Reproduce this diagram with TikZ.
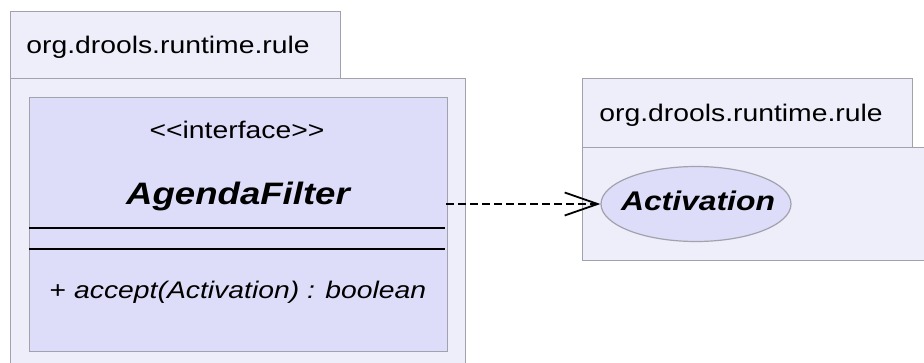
\documentclass[tikz,border=0pt]{standalone}
\usepackage{fontspec}
\setmainfont[FakeStretch=1.18]{Liberation Sans}
\usetikzlibrary{arrows.meta,shapes.geometric}
\definecolor{pkgfill}{HTML}{EEEEFB}
\definecolor{clsfill}{HTML}{DDDDF9}
\definecolor{edgegray}{HTML}{A2A2AC}
\tikzset{
  pkgbox/.style={draw=edgegray, fill=pkgfill, line width=1.3pt, inner sep=0pt, anchor=north west, rectangle},
  clsbox/.style={draw=edgegray, fill=clsfill, line width=1.3pt, inner sep=0pt, anchor=north west, rectangle},
  lbl/.style={inner sep=0pt, font=\fontsize{24}{28}\selectfont},
  sep/.style={draw=black, line width=1.6pt},
  dep/.style={draw=black, line width=1.4pt, dash pattern=on 8pt off 4pt, -{Straight Barb[length=33pt,width=23pt,line width=1.8pt]}}
}
\begin{document}
\begin{tikzpicture}[x=1pt,y=-1pt]
\path[use as bounding box, clip] (0,0) rectangle (924,362);
% left package
\node[pkgbox, minimum width=330pt, minimum height=67pt] (ltab) at (10,11) {};
\node[pkgbox, minimum width=455pt, minimum height=300pt] (lbody) at (10,78) {};
\node[lbl] (ltabtext) at (168,47) {org.drools.runtime.rule};
% right package
\node[pkgbox, minimum width=330pt, minimum height=69pt] (rtab) at (582,78) {};
\node[pkgbox, minimum width=360pt, minimum height=113pt] (rbody) at (582,147) {};
\node[lbl] (rtabtext) at (741,115) {org.drools.runtime.rule};
% class
\node[clsbox, minimum width=418pt, minimum height=254pt] (cls) at (29,97) {};
\node[lbl] (stereo) at (237,130) {<{}<interface>{}>};
\node[lbl, font=\fontsize{31}{36}\selectfont\bfseries\itshape] (cname) at (238,196) {AgendaFilter};
\coordinate (s1l) at (29,228); \coordinate (s1r) at (445,228);
\coordinate (s2l) at (29,249); \coordinate (s2r) at (445,249);
\draw[sep] (s1l) -- (s1r);
\draw[sep] (s2l) -- (s2r);
\node[lbl] (meth) at (238,292) {+ \textit{accept(Activation) : boolean}};
% activation
\node[draw=edgegray, fill=clsfill, line width=1.2pt, ellipse, minimum width=190pt, minimum height=75pt, inner sep=0pt] (act) at (696,204) {};
\node[lbl, font=\fontsize{27}{32}\selectfont\bfseries\itshape] (acttext) at (698,201) {Activation};
% dependency
\coordinate (depstart) at (446,204);
\draw[dep] (depstart) -- (act.west);
\end{tikzpicture}
\end{document}
